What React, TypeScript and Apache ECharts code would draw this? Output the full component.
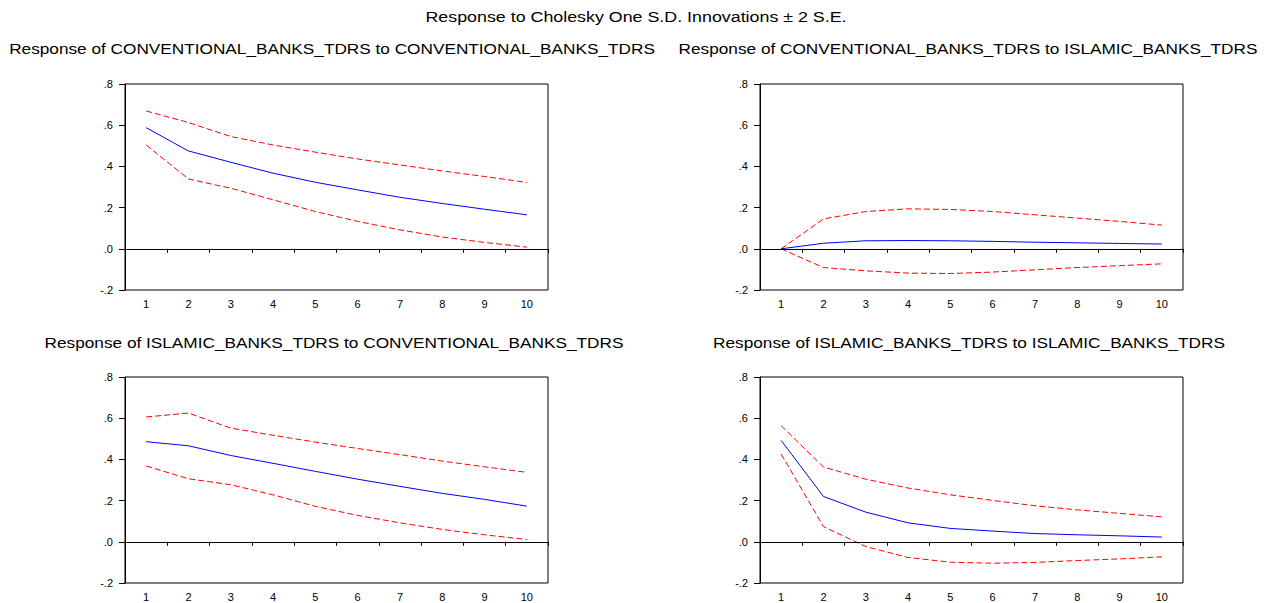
import React, { useEffect, useRef } from "react";
import * as echarts from "echarts";

const periods = ["1", "2", "3", "4", "5", "6", "7", "8", "9", "10"];

const mainTitle = "Response to Cholesky One S.D. Innovations \u00b1 2 S.E.";
const panelTitles = [
  "Response of CONVENTIONAL_BANKS_TDRS to CONVENTIONAL_BANKS_TDRS",
  "Response of CONVENTIONAL_BANKS_TDRS to ISLAMIC_BANKS_TDRS",
  "Response of ISLAMIC_BANKS_TDRS to CONVENTIONAL_BANKS_TDRS",
  "Response of ISLAMIC_BANKS_TDRS to ISLAMIC_BANKS_TDRS",
];

// Panel 1: CONVENTIONAL -> CONVENTIONAL
const p1Resp = [0.588, 0.475, 0.42, 0.367, 0.323, 0.286, 0.25, 0.22, 0.192, 0.165];
const p1Upper = [0.669, 0.613, 0.545, 0.504, 0.469, 0.436, 0.407, 0.378, 0.351, 0.322];
const p1Lower = [0.504, 0.339, 0.294, 0.238, 0.181, 0.133, 0.092, 0.057, 0.031, 0.008];

// Panel 2: CONVENTIONAL -> ISLAMIC
const p2Resp = [0.0, 0.027, 0.039, 0.04, 0.039, 0.036, 0.032, 0.029, 0.026, 0.023];
const p2Upper = [0.0, 0.145, 0.181, 0.194, 0.191, 0.181, 0.165, 0.149, 0.133, 0.115];
const p2Lower = [0.0, -0.091, -0.107, -0.118, -0.12, -0.113, -0.102, -0.091, -0.082, -0.073];

// Panel 3: ISLAMIC -> CONVENTIONAL
const p3Resp = [0.486, 0.466, 0.419, 0.381, 0.342, 0.304, 0.269, 0.235, 0.206, 0.173];
const p3Upper = [0.606, 0.625, 0.552, 0.517, 0.484, 0.453, 0.423, 0.392, 0.364, 0.337];
const p3Lower = [0.368, 0.306, 0.277, 0.228, 0.172, 0.128, 0.092, 0.06, 0.034, 0.011];

// Panel 4: ISLAMIC -> ISLAMIC
const p4Resp = [0.492, 0.22, 0.144, 0.092, 0.065, 0.052, 0.04, 0.034, 0.029, 0.023];
const p4Upper = [0.564, 0.363, 0.304, 0.261, 0.228, 0.201, 0.175, 0.155, 0.138, 0.121];
const p4Lower = [0.426, 0.074, -0.023, -0.076, -0.099, -0.104, -0.1, -0.091, -0.083, -0.073];

const panels = [
  { resp: p1Resp, upper: p1Upper, lower: p1Lower },
  { resp: p2Resp, upper: p2Upper, lower: p2Lower },
  { resp: p3Resp, upper: p3Upper, lower: p3Lower },
  { resp: p4Resp, upper: p4Upper, lower: p4Lower },
];

const FONT = "'Liberation Sans', Arial, sans-serif";

const gridPos = [
  { left: 125, top: 84 },
  { left: 760, top: 84 },
  { left: 125, top: 377 },
  { left: 760, top: 377 },
];
const GW = 423;
const GH = 206;

const titlePos = [
  { x: 332, y: 49 },
  { x: 968, y: 49 },
  { x: 334, y: 343 },
  { x: 969, y: 343 },
];

function fmt(v: number): string {
  const r = Math.round(v * 10) / 10;
  let s = r.toFixed(1);
  if (s === "-0.0") s = "0.0";
  return s.replace(/^(-?)0\./, "$1.");
}

export default function App() {
  const ref = useRef<HTMLDivElement>(null);
  useEffect(() => {
    if (!ref.current) return;
    const chart = echarts.init(ref.current, undefined, { renderer: "svg" });

    const grids = gridPos.map((g) => ({
      left: g.left,
      top: g.top,
      width: GW,
      height: GH,
      show: true,
      borderColor: "#000",
      borderWidth: 1,
      backgroundColor: "transparent",
    }));

    const xAxes = gridPos.map((_, i) => ({
      type: "category",
      gridIndex: i,
      data: periods,
      boundaryGap: true,
      offset: 2,
      axisLine: { show: false },
      axisTick: { show: true, inside: false, length: 4, interval: 0, lineStyle: { color: "#000" } },
      axisLabel: { color: "#000", fontFamily: FONT, fontSize: 11, margin: 6, interval: 0 },
      splitLine: { show: false },
    }));

    const yAxes = gridPos.map((_, i) => ({
      type: "value",
      gridIndex: i,
      min: -0.2,
      max: 0.8,
      interval: 0.2,
      axisLine: { show: true, lineStyle: { color: "#000" } },
      axisTick: { show: true, inside: false, length: 6, lineStyle: { color: "#000" } },
      axisLabel: {
        color: "#000",
        fontFamily: FONT,
        fontSize: 11,
        margin: 12,
        formatter: (v: number) => fmt(v),
      },
      splitLine: { show: false },
    }));

    const series: any[] = [];
    panels.forEach((p, i) => {
      series.push({
        type: "line",
        xAxisIndex: i,
        yAxisIndex: i,
        data: p.resp,
        symbol: "none",
        lineStyle: { color: "#0000FF", width: 1 },
        z: 3,
        markLine: {
          silent: true,
          symbol: "none",
          label: { show: false },
          lineStyle: { color: "#000", width: 1, type: "solid" },
          data: [{ yAxis: 0 }],
        },
      });
      series.push({
        type: "line",
        xAxisIndex: i,
        yAxisIndex: i,
        data: p.upper,
        symbol: "none",
        lineStyle: { color: "#FF0000", width: 1, type: [6, 3] },
        z: 2,
      });
      series.push({
        type: "line",
        xAxisIndex: i,
        yAxisIndex: i,
        data: p.lower,
        symbol: "none",
        lineStyle: { color: "#FF0000", width: 1, type: [6, 3] },
        z: 2,
      });
    });

    const graphics: any[] = [
      {
        type: "text",
        x: 636,
        y: 17,
        scaleX: 1.19,
        style: {
          text: mainTitle,
          align: "center",
          verticalAlign: "middle",
          font: `15px ${FONT}`,
          fill: "#000",
        },
      },
      ...panelTitles.map((t, i) => ({
        type: "text",
        x: titlePos[i].x,
        y: titlePos[i].y,
        scaleX: 1.23,
        style: {
          text: t,
          align: "center",
          verticalAlign: "middle",
          font: `14px ${FONT}`,
          fill: "#000",
        },
      })),
    ];

    chart.setOption({
      animation: false,
      backgroundColor: "#fff",
      grid: grids,
      xAxis: xAxes,
      yAxis: yAxes,
      series,
      graphic: graphics,
    });

    return () => {
      chart.dispose();
    };
  }, []);

  return (
    <div
      ref={ref}
      style={{ position: "fixed", left: 0, top: 0, width: 1270, height: 603, background: "#fff" }}
    />
  );
}
